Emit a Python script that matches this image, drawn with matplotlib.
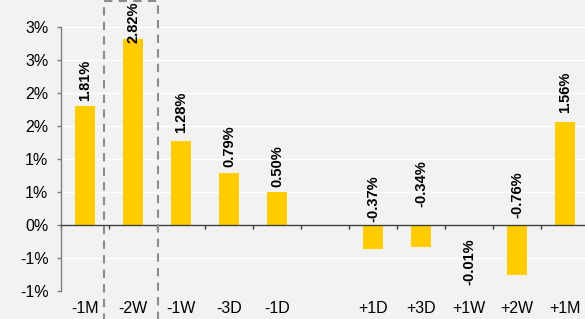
import matplotlib
matplotlib.use("Agg")
import matplotlib.pyplot as plt
from matplotlib.patches import Rectangle
from matplotlib.ticker import FixedLocator

plt.rcParams['font.family'] = ['Liberation Sans', 'DejaVu Sans']

# ---- data ----
categories = ['-1M', '-2W', '-1W', '-3D', '-1D', '', '+1D', '+3D', '+1W', '+2W', '+1M']
values = [1.81, 2.82, 1.28, 0.79, 0.50, None, -0.37, -0.34, -0.01, -0.76, 1.56]
value_labels = ['1.81%', '2.82%', '1.28%', '0.79%', '0.50%', '', '-0.37%', '-0.34%', '-0.01%', '-0.76%', '1.56%']
y_ticks = [-1.0, -0.5, 0.0, 0.5, 1.0, 1.5, 2.0, 2.5, 3.0]
y_tick_labels = ['-1%', '-1%', '0%', '1%', '1%', '2%', '2%', '3%', '3%']

# ---- style ----
BG = '#f2f2f2'
BAR = '#ffcc00'
# label placement offsets in pixels (style)
label_offset_px = [5, -4, 8, 6, 5, 0, 3, 18, -13, 7, 9]

W, H = 585, 319
fig = plt.figure(figsize=(W / 100, H / 100), dpi=100)
fig.patch.set_facecolor(BG)

ymin, ymax = -1.0, 3.4
px_per_unit = 66.0
ax_h_px = (ymax - ymin) * px_per_unit
ax_bottom_px = 319 - 291
ax_left_px = 61
ax_w_px = 48 * 12
ax = fig.add_axes([ax_left_px / W, ax_bottom_px / H, ax_w_px / W, ax_h_px / H])
ax.set_facecolor(BG)

n = len(categories)
xs = list(range(n))
ax.set_xlim(-0.5, n + 0.5)
ax.set_ylim(ymin, ymax)

# gridlines
for t in y_ticks:
    ax.axhline(t, color='white', lw=1.0, zorder=0.5)

bx = [x for x, v in zip(xs, values) if v is not None]
bv = [v for v in values if v is not None]
ax.bar(bx, bv, width=0.4, color=BAR, zorder=2)

# data labels
for x, v, lab, off in zip(xs, values, value_labels, label_offset_px):
    if v is None:
        continue
    off_pt = off * 72 / 100
    anchor = v if v >= 0 else 0
    va = 'bottom' if off >= 0 or v >= 0 else 'top'
    ax.annotate(lab, (x, anchor), xytext=(0, off_pt), textcoords='offset points',
                rotation=90, ha='center', va=va, fontsize=10.5,
                fontweight='bold', color='black', zorder=3)

# spines
for s in ['top', 'right']:
    ax.spines[s].set_visible(False)
ax.spines['left'].set_bounds(-1.0, 3.0)
ax.spines['left'].set_color('#7f7f7f')
ax.spines['left'].set_linewidth(1.0)
ax.spines['bottom'].set_position(('data', 0))
ax.spines['bottom'].set_color('#404040')
ax.spines['bottom'].set_linewidth(1.0)
ax.spines['bottom'].set_zorder(4)

ax.set_yticks(y_ticks)
ax.set_yticklabels(y_tick_labels, fontsize=11.5)
ax.tick_params(axis='y', direction='out', length=3, width=1, color='#7f7f7f', pad=6)

ax.set_xticks(xs)
ax.set_xticklabels(categories, fontsize=11.5)
ax.xaxis.set_minor_locator(FixedLocator([i - 0.5 for i in range(n + 1)]))
ax.tick_params(axis='x', which='major', length=0, pad=55)
ax.tick_params(axis='x', which='minor', direction='out', length=3, width=1, color='#404040')

# dashed highlight box around -2W
rect = Rectangle((0.4, -2.0), 1.12, 3.39 + 2.0, fill=False, edgecolor='#8c8c8c',
                 linestyle=(0, (4, 3)), linewidth=1.5, clip_on=False, zorder=5)
ax.add_patch(rect)

fig.savefig('out.png', dpi=100, facecolor=BG)
